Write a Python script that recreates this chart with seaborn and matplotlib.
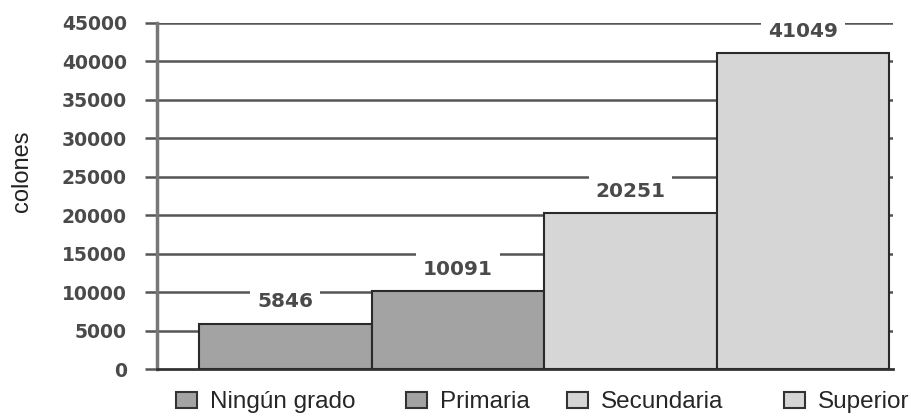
import matplotlib
matplotlib.use('Agg')
import matplotlib.pyplot as plt
import matplotlib.patches as mpatches
import seaborn as sns

categorias = ['Ningún grado', 'Primaria', 'Secundaria', 'Superior']
ingresos = [5846, 10091, 20251, 41049]
colores = ['#a3a3a3', '#a3a3a3', '#d6d6d6', '#d6d6d6']
yticks = [0, 5000, 10000, 15000, 20000, 25000, 30000, 35000, 40000, 45000]

sns.set_style('white')
plt.rcParams['font.family'] = ['Liberation Sans', 'DejaVu Sans']

fig = plt.figure(figsize=(9.11, 4.17), dpi=100)
ax = fig.add_axes([0.172, 0.115, 0.808, 0.83])

sns.barplot(x=categorias, y=ingresos, hue=categorias, palette=colores,
            width=1.0, edgecolor='#2a2a2a', linewidth=1.5, legend=False,
            ax=ax, zorder=3)

for y in yticks[1:]:
    ax.axhline(y, color='#555555', lw=1.8, zorder=1)

for i, v in enumerate(ingresos):
    ax.annotate(str(v), xy=(i, v), xytext=(0, 16), textcoords='offset points',
                ha='center', va='center', fontsize=14.5, fontweight='bold',
                family='DejaVu Sans', color='#4a4a4a', zorder=4,
                bbox=dict(facecolor='white', edgecolor='none', pad=5))

ax.set_xlim(-0.745, 3.52)
ax.set_ylim(0, 45000)
ax.set_yticks(yticks)
ax.set_yticklabels([str(t) for t in yticks], fontsize=13.5, fontweight='bold',
                   family='DejaVu Sans', color='#4a4a4a')
ax.set_xticks([])
ax.tick_params(axis='y', length=8.6, width=1.8, color='#555555', pad=13, left=True)
ax.set_ylabel('colones', fontsize=17, color='#222222')
ax.yaxis.set_label_coords(-0.168, 0.572)
for s in ['top', 'right']:
    ax.spines[s].set_visible(False)
ax.spines['left'].set_color('#777777')
ax.spines['left'].set_linewidth(2.5)
ax.spines['bottom'].set_color('#333333')
ax.spines['bottom'].set_linewidth(2)

# one legend per entry, spacing in the original is uneven
xpos = [176, 406, 567, 784]
for lab, col, xp in zip(categorias, colores, xpos):
    h = mpatches.Patch(facecolor=col, edgecolor='#333333', linewidth=1.5)
    fig.legend([h], [lab], loc='center left', bbox_to_anchor=(xp / 911, 0.035),
               frameon=False, fontsize=17.5, handlelength=0.85, handleheight=0.65,
               handletextpad=0.55, borderaxespad=0, borderpad=0)

fig.savefig('out.png', dpi=100)
